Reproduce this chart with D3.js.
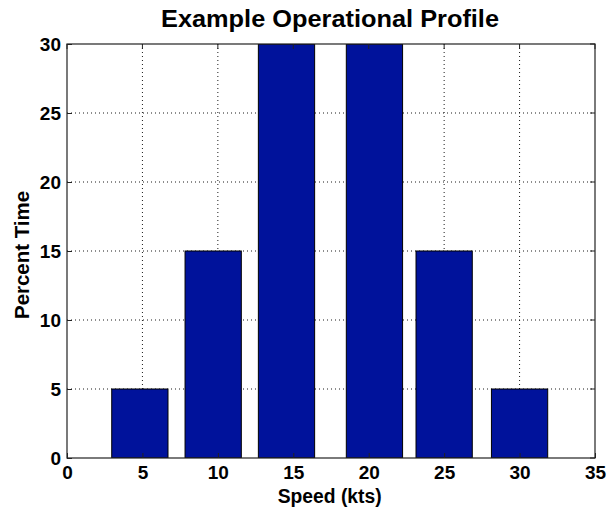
<!DOCTYPE html>
<html>
<head>
<meta charset="utf-8">
<script src="https://cdn.jsdelivr.net/npm/d3@7"></script>
<style>
  html, body { margin: 0; padding: 0; background: #fff; }
  text { font-family: "Liberation Sans", Arial, Helvetica, sans-serif; font-weight: bold; fill: #000; }
</style>
</head>
<body>
<svg id="chart" width="608" height="510"></svg>
<script>
// Operational profile: share of time spent in each speed bin (bar centres in knots)
const speeds = [4.83, 9.69, 14.55, 20.38, 25, 30];
const percentTime = [5, 15, 30, 30, 15, 5];
const xTicks = [0, 5, 10, 15, 20, 25, 30, 35];
const yTicks = [0, 5, 10, 15, 20, 25, 30];

const svg = d3.select("#chart");
const margin = { left: 67, right: 13, top: 44, bottom: 52 };
const W = 608, H = 510;
const iw = W - margin.left - margin.right;
const ih = H - margin.top - margin.bottom;

const x = d3.scaleLinear().domain([0, 35]).range([0, iw]);
const y = d3.scaleLinear().domain([0, 30]).range([ih, 0]);
const barWidth = 3.73; // in knots

const g = svg.append("g").attr("transform", `translate(${margin.left},${margin.top})`);

// clip so bars stay inside the axes box
svg.append("defs").append("clipPath").attr("id", "plotClip")
  .append("rect").attr("width", iw).attr("height", ih);

// dotted grid
g.append("g").selectAll("line").data(xTicks.slice(1, -1)).join("line")
  .attr("x1", d => x(d)).attr("x2", d => x(d)).attr("y1", 0).attr("y2", ih)
  .attr("stroke", "#000").attr("stroke-width", 0.9).attr("stroke-dasharray", "1,3");
g.append("g").selectAll("line").data(yTicks.slice(1, -1)).join("line")
  .attr("y1", d => y(d)).attr("y2", d => y(d)).attr("x1", 0).attr("x2", iw)
  .attr("stroke", "#000").attr("stroke-width", 0.9).attr("stroke-dasharray", "1,3");

// bars
g.append("g").attr("clip-path", "url(#plotClip)")
  .selectAll("rect").data(speeds).join("rect")
  .attr("x", d => x(d - barWidth / 2))
  .attr("width", x(barWidth) - x(0))
  .attr("y", (d, i) => y(percentTime[i]))
  .attr("height", (d, i) => y(0) - y(percentTime[i]))
  .attr("fill", "#00129b").attr("stroke", "#000").attr("stroke-width", 1);

// axes box
g.append("rect").attr("width", iw).attr("height", ih)
  .attr("fill", "none").attr("stroke", "#222").attr("stroke-width", 1.2);

// axes with inward ticks
const xAxis = d3.axisBottom(x).tickValues(xTicks).tickSize(-5).tickPadding(8).tickFormat(d3.format("d"));
const yAxis = d3.axisLeft(y).tickValues(yTicks).tickSize(-5).tickPadding(6).tickFormat(d3.format("d"));

const gx = g.append("g").attr("transform", `translate(0,${ih})`).call(xAxis);
const gy = g.append("g").call(yAxis);
[gx, gy].forEach(a => {
  a.select(".domain").remove();
  a.selectAll(".tick line").attr("stroke", "#222");
  a.selectAll("text").style("font-size", "19px").attr("fill", "#000");
});
// tick marks on the top and right edges
g.append("g").selectAll("line").data(xTicks).join("line")
  .attr("x1", d => x(d)).attr("x2", d => x(d)).attr("y1", 0).attr("y2", 5).attr("stroke", "#222");
g.append("g").selectAll("line").data(yTicks).join("line")
  .attr("y1", d => y(d)).attr("y2", d => y(d)).attr("x1", iw).attr("x2", iw - 5).attr("stroke", "#222");

// title and axis labels
svg.append("text").attr("x", 330).attr("y", 26.5)
  .attr("text-anchor", "middle").style("font-size", "23px")
  .attr("textLength", 338).attr("lengthAdjust", "spacingAndGlyphs")
  .text("Example Operational Profile");
svg.append("text").attr("x", 329.7).attr("y", 503)
  .attr("text-anchor", "middle").style("font-size", "19.5px")
  .attr("textLength", 104).attr("lengthAdjust", "spacingAndGlyphs")
  .text("Speed (kts)");
svg.append("text").attr("transform", `translate(28.5,255) rotate(-90)`)
  .attr("text-anchor", "middle").style("font-size", "20px")
  .attr("textLength", 128).attr("lengthAdjust", "spacingAndGlyphs")
  .text("Percent Time");
</script>
</body>
</html>
